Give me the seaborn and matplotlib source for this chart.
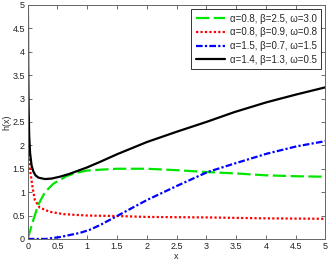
import pandas as pd
import matplotlib
matplotlib.use("Agg")
import matplotlib.pyplot as plt
import seaborn as sns

sns.set_style("ticks")
plt.rcParams['font.family'] = ['Liberation Sans', 'DejaVu Sans']
plt.rcParams['axes.unicode_minus'] = False

# values
labels = ["α=0.8, β=2.5, ω=3.0", "α=0.8, β=0.9, ω=0.8",
          "α=1.5, β=0.7, ω=1.5", "α=1.4, β=1.3, ω=0.5"]

x_green = [0.0, 0.05, 0.095, 0.18, 0.29, 0.43, 0.65, 0.8, 0.99, 1.22, 1.5, 2.0, 2.5, 3.0, 3.5, 4.0, 4.5, 5.0]
y_green = [0.0, 0.22, 0.41, 0.74, 1.0, 1.18, 1.34, 1.41, 1.46, 1.48, 1.50, 1.50, 1.47, 1.43, 1.40, 1.36, 1.34, 1.33]

x_red = [0.005, 0.02, 0.04, 0.08, 0.12, 0.2, 0.37, 0.6, 1.0, 1.5, 2.0, 3.0, 4.0, 5.0]
y_red = [2.0, 1.75, 1.47, 1.11, 0.83, 0.67, 0.58, 0.53, 0.50, 0.49, 0.47, 0.46, 0.44, 0.43]

x_blue = [0.0, 0.3, 0.54, 0.88, 1.05, 1.22, 1.5, 2.0, 2.5, 3.02, 3.47, 4.01, 4.52, 5.0]
y_blue = [0.0, 0.0, 0.04, 0.13, 0.2, 0.30, 0.49, 0.83, 1.13, 1.43, 1.61, 1.82, 1.98, 2.09]

x_black = [0.003, 0.008, 0.015, 0.025, 0.04, 0.065, 0.095, 0.13, 0.18, 0.29, 0.4, 0.54, 0.7, 0.85, 1.0,
           1.22, 1.5, 2.0, 2.5, 3.0, 3.47, 4.01, 4.52, 5.0]
y_black = [5.0, 3.7, 2.8, 2.2, 1.83, 1.57, 1.44, 1.36, 1.31, 1.28, 1.29, 1.33, 1.39, 1.46, 1.53,
           1.65, 1.81, 2.07, 2.29, 2.50, 2.71, 2.92, 3.09, 3.24]

xs = [x_green, x_red, x_blue, x_black]
ys = [y_green, y_red, y_blue, y_black]
df = pd.concat([pd.DataFrame({"x": a, "h": b, "label": l}) for a, b, l in zip(xs, ys, labels)],
               ignore_index=True)

colors = {labels[0]: "#00e600", labels[1]: "#ff0000", labels[2]: "#0000ff", labels[3]: "#000000"}
dash_styles = {labels[0]: (6, 2), labels[1]: (1, 1), labels[2]: (3, 1, 1, 1), labels[3]: ""}

fig = plt.figure(figsize=(3.3, 2.62), dpi=100)
ax = fig.add_axes([0.084, 0.088, 0.902, 0.893])
sns.lineplot(data=df, x="x", y="h", hue="label", style="label", palette=colors,
             dashes=dash_styles, estimator=None, sort=False, linewidth=1.6, ax=ax)

ax.set_xlim(0, 5)
ax.set_ylim(0, 5)
ax.set_xticks([0, 0.5, 1, 1.5, 2, 2.5, 3, 3.5, 4, 4.5, 5])
ax.set_xticklabels(["0", "0.5", "1", "1.5", "2", "2.5", "3", "3.5", "4", "4.5", "5"])
ax.set_yticks([0, 0.5, 1, 1.5, 2, 2.5, 3, 3.5, 4, 4.5, 5])
ax.set_yticklabels(["0", "0.5", "1", "1.5", "2", "2.5", "3", "3.5", "4", "4.5", "5"])
ax.tick_params(direction="in", length=3, width=0.6, labelsize=6.5, colors="#555555",
               labelcolor="#222222", top=True, right=True, pad=2)
for s in ax.spines.values():
    s.set_color("#666666")
    s.set_linewidth(0.7)
ax.set_xlabel("x", fontsize=6.5, labelpad=1)
ax.set_ylabel("h(x)", fontsize=6.5, labelpad=1)

sns.move_legend(ax, "upper right", title=None, frameon=True, fontsize=7,
                handlelength=3, handletextpad=0.5, labelspacing=0.38,
                borderpad=0.45, borderaxespad=0.45, fancybox=False, edgecolor="black")
ax.get_legend().get_frame().set_linewidth(0.7)

fig.savefig("out.png", dpi=100)
